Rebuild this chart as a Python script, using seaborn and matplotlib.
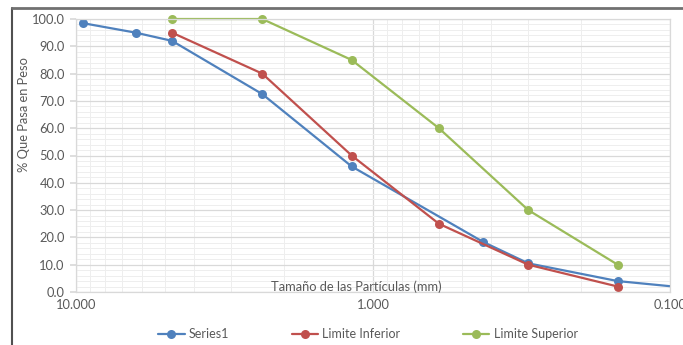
import matplotlib
matplotlib.use("Agg")
import matplotlib.pyplot as plt
import seaborn as sns
import pandas as pd
import numpy as np
from matplotlib.ticker import FixedLocator, FuncFormatter, MultipleLocator
from matplotlib.lines import Line2D
from matplotlib.patches import Rectangle

# Data
s1_size = [9.5, 6.3, 4.75, 2.36, 1.18, 0.425, 0.3, 0.15, 0.075]
s1_pass = [98.5, 95.0, 92.0, 72.5, 46.0, 18.3, 10.5, 4.0, 0.8]
inf_size = [4.75, 2.36, 1.18, 0.6, 0.3, 0.15]
inf_pass = [95.0, 80.0, 50.0, 25.0, 10.0, 2.0]
sup_size = [4.75, 2.36, 1.18, 0.6, 0.3, 0.15]
sup_pass = [100.0, 100.0, 85.0, 60.0, 30.0, 10.0]
series_names = ["Series1", "Limite Inferior", "Limite Superior"]
colors = ["#4F81BD", "#C0504D", "#9BBB59"]
x_ticks = [10, 1, 0.1]
x_labels = ["10.000", "1.000", "0.100"]

sns.set_theme(style="white")
plt.rcParams["font.family"] = ["Lato", "DejaVu Sans"]

fig = plt.figure(figsize=(6.83, 3.45), dpi=100)
ax = fig.add_axes([76/683, 1-292/345, (670-76)/683, (292-19)/345])

datasets = [(s1_size, s1_pass), (inf_size, inf_pass), (sup_size, sup_pass)]
for (xs, ys), name, c in zip(datasets, series_names, colors):
    df = pd.DataFrame({"size": xs, "pass": ys})
    sns.lineplot(data=df, x="size", y="pass", ax=ax, sort=False, color=c,
                 marker="o", markersize=6.5, markeredgewidth=0, linewidth=1.6,
                 label=name, legend=False)

# clip horizontally at the axis edges but let markers at 100 show fully
clip_rect = Rectangle((0, -0.05), 1, 1.1, transform=ax.transAxes, visible=False)
ax.add_patch(clip_rect)
for ln in ax.get_lines():
    ln.set_clip_path(clip_rect)

ax.set_xscale("log")
ax.set_xlim(10, 0.1)
ax.set_ylim(0, 100)

ax.xaxis.set_major_locator(FixedLocator(x_ticks))
ax.xaxis.set_major_formatter(FuncFormatter(lambda v, p: x_labels[x_ticks.index(v)] if v in x_ticks else ""))
minor = [m * 10.0**e for e in (-1, 0) for m in range(2, 10)]
ax.xaxis.set_minor_locator(FixedLocator(minor))
ax.xaxis.set_minor_formatter(FuncFormatter(lambda v, p: ""))
ax.yaxis.set_major_locator(MultipleLocator(10))
ax.yaxis.set_minor_locator(MultipleLocator(2))
ax.yaxis.set_major_formatter(FuncFormatter(lambda v, p: f"{v:.1f}"))

ax.grid(which="major", color="#d9d9d9", linewidth=0.9)
ax.grid(which="minor", color="#eeeeee", linewidth=0.7)
ax.set_axisbelow(True)
for sp in ax.spines.values():
    sp.set_color("#d9d9d9")
    sp.set_linewidth(0.9)

ax.tick_params(axis="y", which="major", length=4, color="#d9d9d9", pad=4,
               labelsize=9.3, labelcolor="#595959", left=True)
ax.tick_params(axis="y", which="minor", length=0)
ax.tick_params(axis="x", which="both", length=0, pad=5, labelsize=9.3, labelcolor="#595959")
ax.set_xlabel("")
ax.set_ylabel("")

ax.text((356-76)/594, (292-287)/273, "Tamaño de las Partículas (mm)", transform=ax.transAxes,
        ha="center", va="center", fontsize=9.3, color="#595959")
fig.text(24/683, 1-115/345, "% Que Pasa en Peso", rotation=90, ha="center", va="center",
         fontsize=9.3, color="#595959")

handles = [Line2D([], [], color=c, marker="o", markersize=6.5, markeredgewidth=0, linewidth=1.6)
           for c in colors]
fig.legend(handles, series_names, loc="center", bbox_to_anchor=(368/683, 1-334/345), ncol=3,
           frameon=False, fontsize=9, handlelength=2.1, handletextpad=0.35, columnspacing=5.0,
           labelcolor="#595959")

# outer chart frame (cropped screenshot edges)
fig.add_artist(Line2D([12/683, 12/683], [0, 1-8/345], transform=fig.transFigure,
                      color="#505050", linewidth=1.5))
fig.add_artist(Line2D([12/683, 1], [1-8/345, 1-8/345], transform=fig.transFigure,
                      color="#707070", linewidth=2.0))

fig.savefig("out.png", dpi=100)
